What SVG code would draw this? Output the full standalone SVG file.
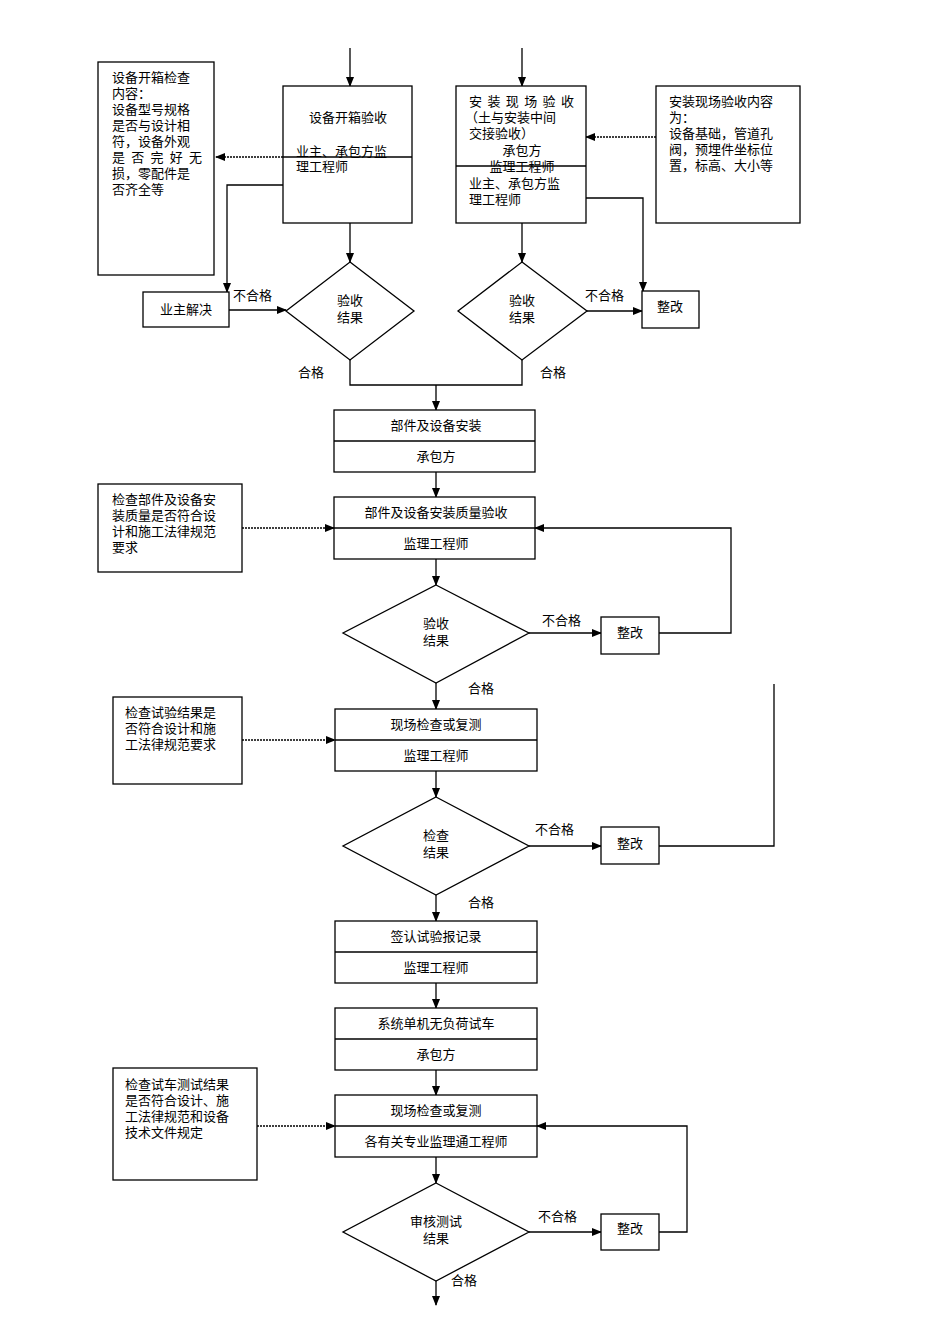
<svg xmlns="http://www.w3.org/2000/svg" width="950" height="1344" viewBox="0 0 950 1344">
<defs>
<marker id="a" markerWidth="10" markerHeight="8" refX="9" refY="4" orient="auto" markerUnits="userSpaceOnUse"><path d="M0,0L10,4L0,8z" fill="#000"/></marker>
<style>
.b{fill:#fff;stroke:#000;stroke-width:1.3}
.l{fill:none;stroke:#000;stroke-width:1.3}
.d{fill:none;stroke:#000;stroke-width:1.3;stroke-dasharray:2,1}
text{font-family:"Liberation Serif","Noto Sans CJK SC",serif;font-size:13px;fill:#000}
.c{text-anchor:middle}
</style>
</defs>
<rect width="950" height="1344" fill="#fff"/>
<g id="connectors">
<path class="l" d="M350,48V86" marker-end="url(#a)"/>
<path class="l" d="M522,48V86" marker-end="url(#a)"/>
<path class="d" d="M283,157H216" marker-end="url(#a)"/>
<path class="l" d="M283,185H227V292" marker-end="url(#a)"/>
<path class="l" d="M229,310H286" marker-end="url(#a)"/>
<path class="l" d="M350,223V262" marker-end="url(#a)"/>
<path class="l" d="M522,223V262" marker-end="url(#a)"/>
<path class="d" d="M656,137H586" marker-end="url(#a)"/>
<path class="l" d="M586,198H643V291" marker-end="url(#a)"/>
<path class="l" d="M587,311H642" marker-end="url(#a)"/>
<path class="l" d="M350,360V385H522V360M436,385V410" marker-end="url(#a)"/>
<path class="l" d="M436,472V497" marker-end="url(#a)"/>
<path class="d" d="M242,528H334" marker-end="url(#a)"/>
<path class="l" d="M436,559V585" marker-end="url(#a)"/>
<path class="l" d="M529,633H601" marker-end="url(#a)"/>
<path class="l" d="M659,633H731V528H535" marker-end="url(#a)"/>
<path class="l" d="M436,683V709" marker-end="url(#a)"/>
<path class="d" d="M242,740H335" marker-end="url(#a)"/>
<path class="l" d="M436,771V797" marker-end="url(#a)"/>
<path class="l" d="M529,846H601" marker-end="url(#a)"/>
<path class="l" d="M659,846H774V684"/>
<path class="l" d="M436,895V921" marker-end="url(#a)"/>
<path class="l" d="M436,983V1008" marker-end="url(#a)"/>
<path class="l" d="M436,1070V1095" marker-end="url(#a)"/>
<path class="d" d="M257,1126H335" marker-end="url(#a)"/>
<path class="l" d="M436,1157V1183" marker-end="url(#a)"/>
<path class="l" d="M529,1232H601" marker-end="url(#a)"/>
<path class="l" d="M659,1232H687V1126H537" marker-end="url(#a)"/>
<path class="l" d="M436,1281V1305" marker-end="url(#a)"/>
<text x="233" y="300">不合格</text>
<text x="585" y="300">不合格</text>
<text x="298" y="377">合格</text>
<text x="540" y="377">合格</text>
<text x="542" y="625">不合格</text>
<text x="468" y="693">合格</text>
<text x="535" y="834">不合格</text>
<text x="468" y="907">合格</text>
<text x="538" y="1221">不合格</text>
<text x="451" y="1285">合格</text>
</g>
<g id="n1"><rect class="b" x="98" y="62" width="116" height="213"/>
<text x="112" y="82">设备开箱检查</text><text x="112" y="98">内容：</text><text x="112" y="114">设备型号规格</text><text x="112" y="130">是否与设计相</text><text x="112" y="146">符，设备外观</text><text x="112" y="162" textLength="90">是否完好无</text><text x="112" y="178">损，零配件是</text><text x="112" y="194">否齐全等</text></g>
<g id="n2"><rect class="b" x="283" y="86" width="129" height="137"/><path class="l" d="M283,157H412"/>
<text class="c" x="348" y="122">设备开箱验收</text><text x="296" y="156">业主、承包方监</text><text x="296" y="171">理工程师</text></g>
<g id="n3"><rect class="b" x="456" y="86" width="130" height="137"/><path class="l" d="M456,166H586"/>
<text x="469" y="106" textLength="105">安装现场验收</text><text x="465" y="122">（土与安装中间</text><text x="469" y="138">交接验收）</text><text class="c" x="522" y="155">承包方</text><text class="c" x="522" y="171">监理工程师</text><text x="469" y="188">业主、承包方监</text><text x="469" y="204">理工程师</text></g>
<g id="n4"><rect class="b" x="656" y="86" width="144" height="137"/>
<text x="669" y="106">安装现场验收内容</text><text x="669" y="122">为：</text><text x="669" y="138">设备基础，管道孔</text><text x="669" y="154">阀，预埋件坐标位</text><text x="669" y="170">置，标高、大小等</text></g>
<g id="n5"><rect class="b" x="143" y="292" width="86" height="35"/><text class="c" x="186" y="314">业主解决</text></g>
<g id="n6"><path class="b" d="M350,262L414,311L350,360L286,311z"/><text class="c" x="350" y="305">验收</text><text class="c" x="350" y="322">结果</text></g>
<g id="n7"><path class="b" d="M522,262L587,311L522,360L458,311z"/><text class="c" x="522" y="305">验收</text><text class="c" x="522" y="322">结果</text></g>
<g id="n8"><rect class="b" x="642" y="291" width="57" height="37"/><text class="c" x="670" y="311">整改</text></g>
<g id="n9"><rect class="b" x="334" y="410" width="201" height="62"/><path class="l" d="M334,441H535"/><text class="c" x="436" y="430">部件及设备安装</text><text class="c" x="436" y="461">承包方</text></g>
<g id="n10"><rect class="b" x="334" y="497" width="201" height="62"/><path class="l" d="M334,528H535"/><text class="c" x="436" y="517">部件及设备安装质量验收</text><text class="c" x="436" y="548">监理工程师</text></g>
<g id="n11"><rect class="b" x="98" y="484" width="144" height="88"/><text x="112" y="504">检查部件及设备安</text><text x="112" y="520">装质量是否符合设</text><text x="112" y="536">计和施工法律规范</text><text x="112" y="552">要求</text></g>
<g id="n12"><path class="b" d="M436,585L529,633L436,683L343,633z"/><text class="c" x="436" y="628">验收</text><text class="c" x="436" y="645">结果</text></g>
<g id="n13"><rect class="b" x="601" y="617" width="58" height="37"/><text class="c" x="630" y="637">整改</text></g>
<g id="n14"><rect class="b" x="335" y="709" width="202" height="62"/><path class="l" d="M335,740H537"/><text class="c" x="436" y="729">现场检查或复测</text><text class="c" x="436" y="760">监理工程师</text></g>
<g id="n15"><rect class="b" x="113" y="697" width="129" height="87"/><text x="125" y="717">检查试验结果是</text><text x="125" y="733">否符合设计和施</text><text x="125" y="749">工法律规范要求</text></g>
<g id="n16"><path class="b" d="M436,797L529,846L436,895L343,846z"/><text class="c" x="436" y="840">检查</text><text class="c" x="436" y="857">结果</text></g>
<g id="n17"><rect class="b" x="601" y="827" width="58" height="37"/><text class="c" x="630" y="848">整改</text></g>
<g id="n18"><rect class="b" x="335" y="921" width="202" height="62"/><path class="l" d="M335,952H537"/><text class="c" x="436" y="941">签认试验报记录</text><text class="c" x="436" y="972">监理工程师</text></g>
<g id="n19"><rect class="b" x="335" y="1008" width="202" height="62"/><path class="l" d="M335,1039H537"/><text class="c" x="436" y="1028">系统单机无负荷试车</text><text class="c" x="436" y="1059">承包方</text></g>
<g id="n20"><rect class="b" x="335" y="1095" width="202" height="62"/><path class="l" d="M335,1126H537"/><text class="c" x="436" y="1115">现场检查或复测</text><text class="c" x="436" y="1146">各有关专业监理通工程师</text></g>
<g id="n21"><rect class="b" x="113" y="1068" width="144" height="112"/><text x="125" y="1089">检查试车测试结果</text><text x="125" y="1105">是否符合设计、施</text><text x="125" y="1121">工法律规范和设备</text><text x="125" y="1137">技术文件规定</text></g>
<g id="n22"><path class="b" d="M436,1183L529,1232L436,1281L343,1232z"/><text class="c" x="436" y="1226">审核测试</text><text class="c" x="436" y="1243">结果</text></g>
<g id="n23"><rect class="b" x="601" y="1214" width="58" height="36"/><text class="c" x="630" y="1233">整改</text></g>
</svg>
